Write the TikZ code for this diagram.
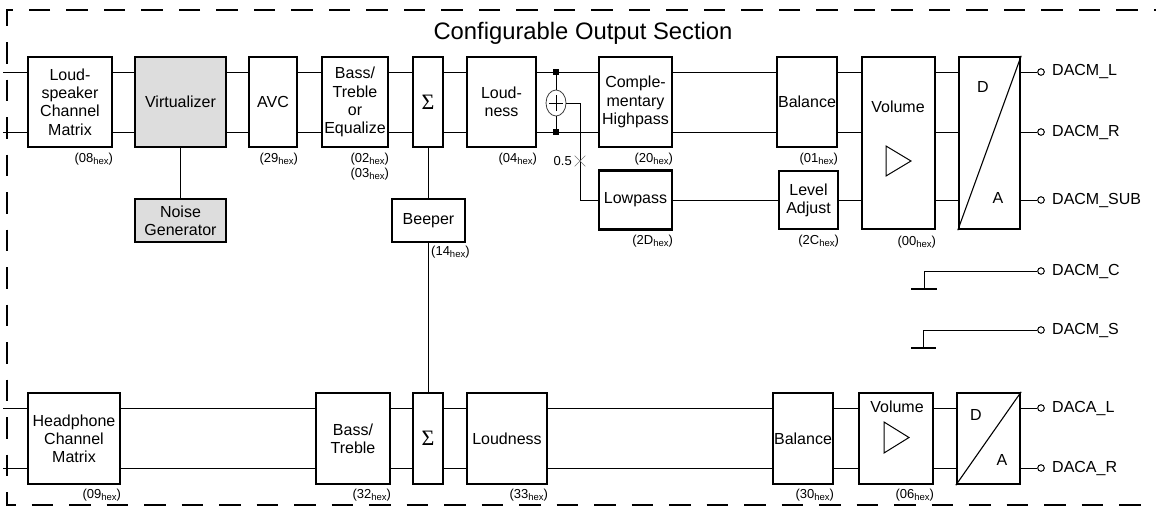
\documentclass[tikz,border=0pt]{standalone}
\usepackage{fontspec}
\setmainfont{Liberation Sans}
\newfontfamily\sigfont{Liberation Serif}
\usetikzlibrary{shapes.misc,shapes.geometric}
\definecolor{boxgray}{RGB}{221,221,221}
\definecolor{markgray}{RGB}{120,120,120}
\newcommand\hx[1]{(#1\raisebox{-0.32ex}{\fontsize{9.5}{9.5}\selectfont hex})}
\begin{document}
\begin{tikzpicture}[x=1pt,y=-1pt,
  blk/.style={draw, line width=2.4pt, inner sep=0pt, align=center,
    font=\fontsize{16}{18.2}\selectfont},
  grayblk/.style={blk, fill=boxgray},
  wire/.style={line width=1pt},
  lbl/.style={font=\fontsize{13}{14}\selectfont, inner sep=0pt, anchor=east},
  txt/.style={font=\fontsize{16}{18.2}\selectfont, inner sep=0pt},
  outl/.style={font=\fontsize{16}{18.2}\selectfont, inner sep=0pt, anchor=west},
  term/.style={circle, draw, line width=1pt, fill=white, minimum size=6.6pt, inner sep=0pt},
  sq/.style={rectangle, fill=black, minimum size=6pt, inner sep=0pt},
  sig/.style={font=\sigfont\fontsize{22}{22}\selectfont}]
\useasboundingbox (0,0) rectangle (1156,509);

% dashed section border (right side lies outside the picture)
\draw[line width=2pt, dash pattern=on 21.5pt off 16pt] (1175,10) -- (7,10) -- (7,505) -- (1175,505);
\node[font=\fontsize{23.8}{26}\selectfont, inner sep=0pt, anchor=base] (title) at (583,39) {Configurable Output Section};

% signal rows
\coordinate (tL) at (0,72);
\coordinate (tR) at (0,132);
\coordinate (tS) at (0,200);
\coordinate (bL) at (0,408);
\coordinate (bR) at (0,468);
\coordinate (inTL) at (3,72);
\coordinate (inTR) at (3,132);
\coordinate (inBL) at (3,408);
\coordinate (inBR) at (3,468);

% ---------- top row ----------
\node[blk, minimum width=84pt, minimum height=90pt] (LS) at (70,102) {Loud-\\speaker\\Channel\\Matrix};
\node[grayblk, minimum width=91pt, minimum height=90pt] (VIR) at (180.5,102) {Virtualizer};
\node[blk, minimum width=48pt, minimum height=90pt] (AVC) at (273,102) {AVC};
\node[blk, minimum width=66pt, minimum height=90pt] (BEQ) at (355,102) {Bass/\\Treble\\or\\Equalize};
\node[blk, minimum width=30pt, minimum height=90pt, sig] (S1) at (428,102) {Σ};
\node[blk, minimum width=69pt, minimum height=90pt] (LD1) at (501.5,102) {Loud-\\ness};
\node[blk, minimum width=73pt, minimum height=90pt] (CHP) at (635.5,102) {Comple-\\mentary\\Highpass};
\node[blk, minimum width=60pt, minimum height=90pt] (BAL1) at (807,102) {Balance};
\node[blk, minimum width=73pt, minimum height=172pt] (VOL1) at (898.5,143) {};
\node[blk, minimum width=61pt, minimum height=172pt] (DA1) at (989.5,143) {};
\node[blk, minimum width=73pt, minimum height=59pt] (LP) at (635.5,200) {Lowpass};
\node[blk, minimum width=59pt, minimum height=58pt] (LA) at (808.5,200) {Level\\Adjust};
\node[grayblk, minimum width=91pt, minimum height=43pt] (NG) at (180.5,220.5) {Noise\\Generator};
\node[blk, minimum width=73pt, minimum height=43pt] (BP) at (428.5,220.5) {Beeper};

\node[txt] (vol1t) at (898,107) {Volume};
\draw[wire] (886,146) -- (911,161) -- (886,176) -- cycle;
\draw[line width=1.1pt] (DA1.south west) -- (DA1.north east);
\node[txt] (d1) at (983,87) {D};
\node[txt] (a1) at (998,198) {A};

% top wiring
\draw[wire] (inTL) -- (LS.west|-tL);
\draw[wire] (inTR) -- (LS.west|-tR);
\foreach \a/\b in {LS/VIR, VIR/AVC, AVC/BEQ, BEQ/S1, S1/LD1, LD1/CHP, CHP/BAL1, BAL1/VOL1, VOL1/DA1}{
  \draw[wire] (\a.east|-tL) -- (\b.west|-tL);
  \draw[wire] (\a.east|-tR) -- (\b.west|-tR);
}
\draw[wire] (VOL1.east|-tS) -- (DA1.west|-tS);
\draw[wire] (LP.east) -- (LA.west);
\draw[wire] (LA.east) -- (VOL1.west|-LA.east);
\draw[wire] (VIR.south) -- (NG.north);
\draw[wire] (S1.south) -- (S1.south|-BP.north);

% summing junction
\node[sq] (jT) at (556,72) {};
\node[sq] (jB) at (556,132) {};
\node[ellipse, draw=black!75, line width=0.8pt, fill=white, minimum width=20pt, minimum height=26pt, inner sep=0pt] (SUM) at (556,103) {};
\draw[wire] (jT) -- (SUM.north);
\draw[wire] (SUM.south) -- (jB);
\draw[line width=0.8pt] ([xshift=-7pt]SUM.center) -- ([xshift=7pt]SUM.center);
\draw[line width=0.8pt] ([yshift=-8pt]SUM.center) -- ([yshift=8pt]SUM.center);
\coordinate (sk) at (580,103);
\draw[wire] (SUM.east) -- (sk) |- (LP.west);
\node[cross out, draw=markgray, line width=0.6pt, minimum size=10pt, inner sep=0pt] (MUL) at (580,161) {};
\node[lbl, anchor=east] (half) at (572,161) {0.5};

% top outputs
\node[term] (oL) at (1041,72) {};
\node[term] (oR) at (1041,132) {};
\node[term] (oSUB) at (1041,200) {};
\draw[wire] (DA1.east|-oL) -- (oL.west);
\draw[wire] (DA1.east|-oR) -- (oR.west);
\draw[wire] (DA1.east|-oSUB) -- (oSUB.west);
\node[outl] (tOL) at (1052,72) {DACM\_L};
\node[outl] (tOR) at (1052,132) {DACM\_R};
\node[outl] (tOSUB) at (1052,200) {DACM\_SUB};

% grounded outputs
\node[term] (oC) at (1041,271) {};
\node[term] (oS) at (1041,330) {};
\coordinate (gC) at (924,289);
\coordinate (gS) at (923,348);
\draw[wire] (oC.west) -| (gC);
\draw[wire] (oS.west) -| (gS);
\draw[line width=1.2pt] ([xshift=-13pt]gC) -- ([xshift=13pt]gC);
\draw[line width=1.2pt] ([xshift=-12pt]gS) -- ([xshift=13pt]gS);
\node[outl] (tOC) at (1052,271) {DACM\_C};
\node[outl] (tOS) at (1052,330) {DACM\_S};

% top labels
\node[lbl] at ([yshift=-11pt]LS.south east) {\hx{08}};
\node[lbl] at ([yshift=-11pt]AVC.south east) {\hx{29}};
\node[lbl] at ([yshift=-11pt]BEQ.south east) {\hx{02}};
\node[lbl] at ([yshift=-26pt]BEQ.south east) {\hx{03}};
\node[lbl] at ([yshift=-11pt]LD1.south east) {\hx{04}};
\node[lbl] at ([yshift=-11pt]CHP.south east) {\hx{20}};
\node[lbl] at ([yshift=-11pt]BAL1.south east) {\hx{01}};
\node[lbl] at ([yshift=-10pt]LP.south east) {\hx{2D}};
\node[lbl] at ([yshift=-11pt]LA.south east) {\hx{2C}};
\node[lbl] at ([yshift=-12pt]VOL1.south east) {\hx{00}};
\node[lbl, anchor=west] at (431,252) {\hx{14}};

% ---------- bottom row ----------
\node[blk, minimum width=92pt, minimum height=91pt] (HP) at (74,438.5) {Headphone\\Channel\\Matrix};
\node[blk, minimum width=74pt, minimum height=91pt] (BT2) at (353,438.5) {Bass/\\Treble};
\node[blk, minimum width=30pt, minimum height=91pt, sig] (S2) at (428,438.5) {Σ};
\node[blk, minimum width=80pt, minimum height=91pt] (LD2) at (507,438.5) {Loudness};
\node[blk, minimum width=60pt, minimum height=91pt] (BAL2) at (803,438.5) {Balance};
\node[blk, minimum width=74pt, minimum height=91pt] (VOL2) at (896,438.5) {};
\node[blk, minimum width=63pt, minimum height=91pt] (DA2) at (988.5,438.5) {};

\node[txt] (vol2t) at (897,407) {Volume};
\draw[wire] (884,422) -- (909,437.5) -- (884,453) -- cycle;
\draw[line width=1.1pt] (DA2.south west) -- (DA2.north east);
\node[txt] (d2) at (976,415) {D};
\node[txt] (a2) at (1002,460) {A};

\draw[wire] (inBL) -- (HP.west|-bL);
\draw[wire] (inBR) -- (HP.west|-bR);
\foreach \a/\b in {HP/BT2, BT2/S2, S2/LD2, LD2/BAL2, BAL2/VOL2, VOL2/DA2}{
  \draw[wire] (\a.east|-bL) -- (\b.west|-bL);
  \draw[wire] (\a.east|-bR) -- (\b.west|-bR);
}
\draw[wire] (BP.south-|S2.north) -- (S2.north);

\node[term] (oAL) at (1041,408) {};
\node[term] (oAR) at (1041,468) {};
\draw[wire] (DA2.east|-oAL) -- (oAL.west);
\draw[wire] (DA2.east|-oAR) -- (oAR.west);
\node[outl] (tAL) at (1052,408) {DACA\_L};
\node[outl] (tAR) at (1052,468) {DACA\_R};

\node[lbl] at ([yshift=-10pt]HP.south east) {\hx{09}};
\node[lbl] at ([yshift=-10pt]BT2.south east) {\hx{32}};
\node[lbl] at ([yshift=-10pt]LD2.south east) {\hx{33}};
\node[lbl] at ([yshift=-10pt]BAL2.south east) {\hx{30}};
\node[lbl] at ([yshift=-10pt]VOL2.south east) {\hx{06}};
\end{tikzpicture}
\end{document}
